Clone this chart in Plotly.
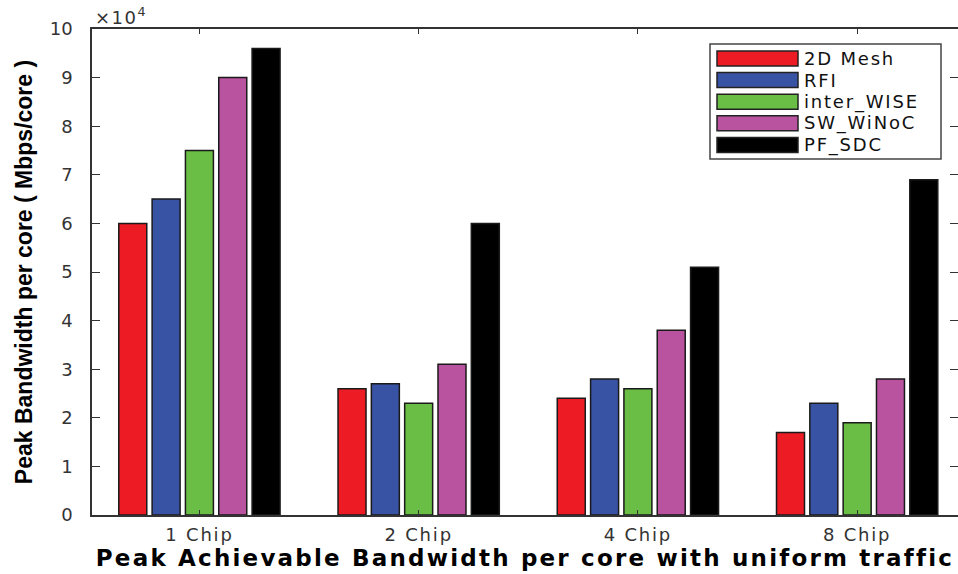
import plotly.graph_objects as go

# Peak achievable bandwidth per core (x10^4 Mbps/core), uniform traffic
categories = ["1 Chip", "2 Chip", "4 Chip", "8 Chip"]
series_names = ["2D Mesh", "RFI", "inter_WISE", "SW_WiNoC", "PF_SDC"]
mesh_2d = [6.0, 2.6, 2.4, 1.7]
rfi = [6.5, 2.7, 2.8, 2.3]
inter_wise = [7.5, 2.3, 2.6, 1.9]
sw_winoc = [9.0, 3.1, 3.8, 2.8]
pf_sdc = [9.6, 6.0, 5.1, 6.9]
y_ticks = [0, 1, 2, 3, 4, 5, 6, 7, 8, 9, 10]

series_values = [mesh_2d, rfi, inter_wise, sw_winoc, pf_sdc]
colors = ["#ED1C24", "#3953A4", "#6ABD45", "#B9529F", "#000000"]

W, H = 958, 574
ML, MR, MT, MB = 92, 0, 29, 59
FONT = "DejaVu Sans"


def spaced(text, px_spacing):
    return f'<span style="letter-spacing:{px_spacing}px">{text}</span>'


fig = go.Figure()
x_pos = list(range(1, len(categories) + 1))
for name, vals, col in zip(series_names, series_values, colors):
    fig.add_trace(go.Bar(
        x=x_pos, y=vals, name=name,
        marker=dict(color=col, line=dict(color="#1a1a1a", width=1.5)),
        showlegend=False,
    ))

# Legend box with wide colour swatches
lx0, lx1, ly0, ly1 = 710, 941, 44, 159
pw, ph = W - ML - MR, H - MT - MB


def px(x):
    return (x - ML) / pw


def py(y):
    return 1 - (y - MT) / ph


shapes = [dict(type="rect", xref="paper", yref="paper",
               x0=px(lx0), x1=px(lx1), y0=py(ly1), y1=py(ly0),
               line=dict(color="#444", width=1.5), fillcolor="white", layer="above")]
annotations = []
row0, step = 58.5, 21.6
for i, (name, col) in enumerate(zip(series_names, colors)):
    cy = row0 + i * step
    shapes.append(dict(type="rect", xref="paper", yref="paper",
                       x0=px(717), x1=px(798), y0=py(cy + 7.5), y1=py(cy - 7.5),
                       line=dict(color="#222", width=1.5), fillcolor=col, layer="above"))
    annotations.append(dict(xref="paper", yref="paper", x=px(802), y=py(cy),
                            text=spaced(name, 1.8), showarrow=False,
                            xanchor="left", yanchor="middle",
                            font=dict(family=FONT, size=18, color="#111")))

# Exponent label above the y axis
annotations.append(dict(xref="paper", yref="paper", x=px(93), y=py(16),
                        text=spaced("×10<sup>4</sup>", 1.5), showarrow=False,
                        xanchor="left", yanchor="middle",
                        font=dict(family=FONT, size=18, color="#333")))

fig.update_layout(
    width=W, height=H,
    margin=dict(l=ML, r=MR, t=MT, b=MB, pad=0, autoexpand=False),
    paper_bgcolor="white", plot_bgcolor="white",
    barmode="group", bargap=0.24, bargroupgap=0.16,
    shapes=shapes, annotations=annotations,
    xaxis=dict(
        range=[0.51, 4.46], tickmode="array", tickvals=x_pos,
        ticktext=[spaced(c, 1.8) for c in categories],
        showline=True, linecolor="#333", linewidth=1.5, mirror="ticks",
        ticks="inside", ticklen=5, tickcolor="#333", showgrid=False, zeroline=False,
        ticklabelstandoff=3, automargin=False,
        tickfont=dict(family=FONT, size=18, color="#333"),
        title=dict(text=spaced("<b>Peak Achievable Bandwidth per core with uniform traffic</b>", 2.2),
                   font=dict(family=FONT, size=23, color="#000"), standoff=4),
    ),
    yaxis=dict(
        range=[0, 10], tickmode="array", tickvals=y_ticks,
        showline=True, linecolor="#333", linewidth=1.5, mirror="ticks",
        ticks="inside", ticklen=8, tickcolor="#333", showgrid=False, zeroline=False,
        ticklabelstandoff=14, automargin=False,
        tickfont=dict(family=FONT, size=18, color="#333"),
        title=dict(text="<b>Peak Bandwidth per core ( Mbps/core )</b>",
                   font=dict(family="Liberation Sans, Arial", size=23, color="#000"), standoff=11),
    ),
)

fig.write_html("out.html")
